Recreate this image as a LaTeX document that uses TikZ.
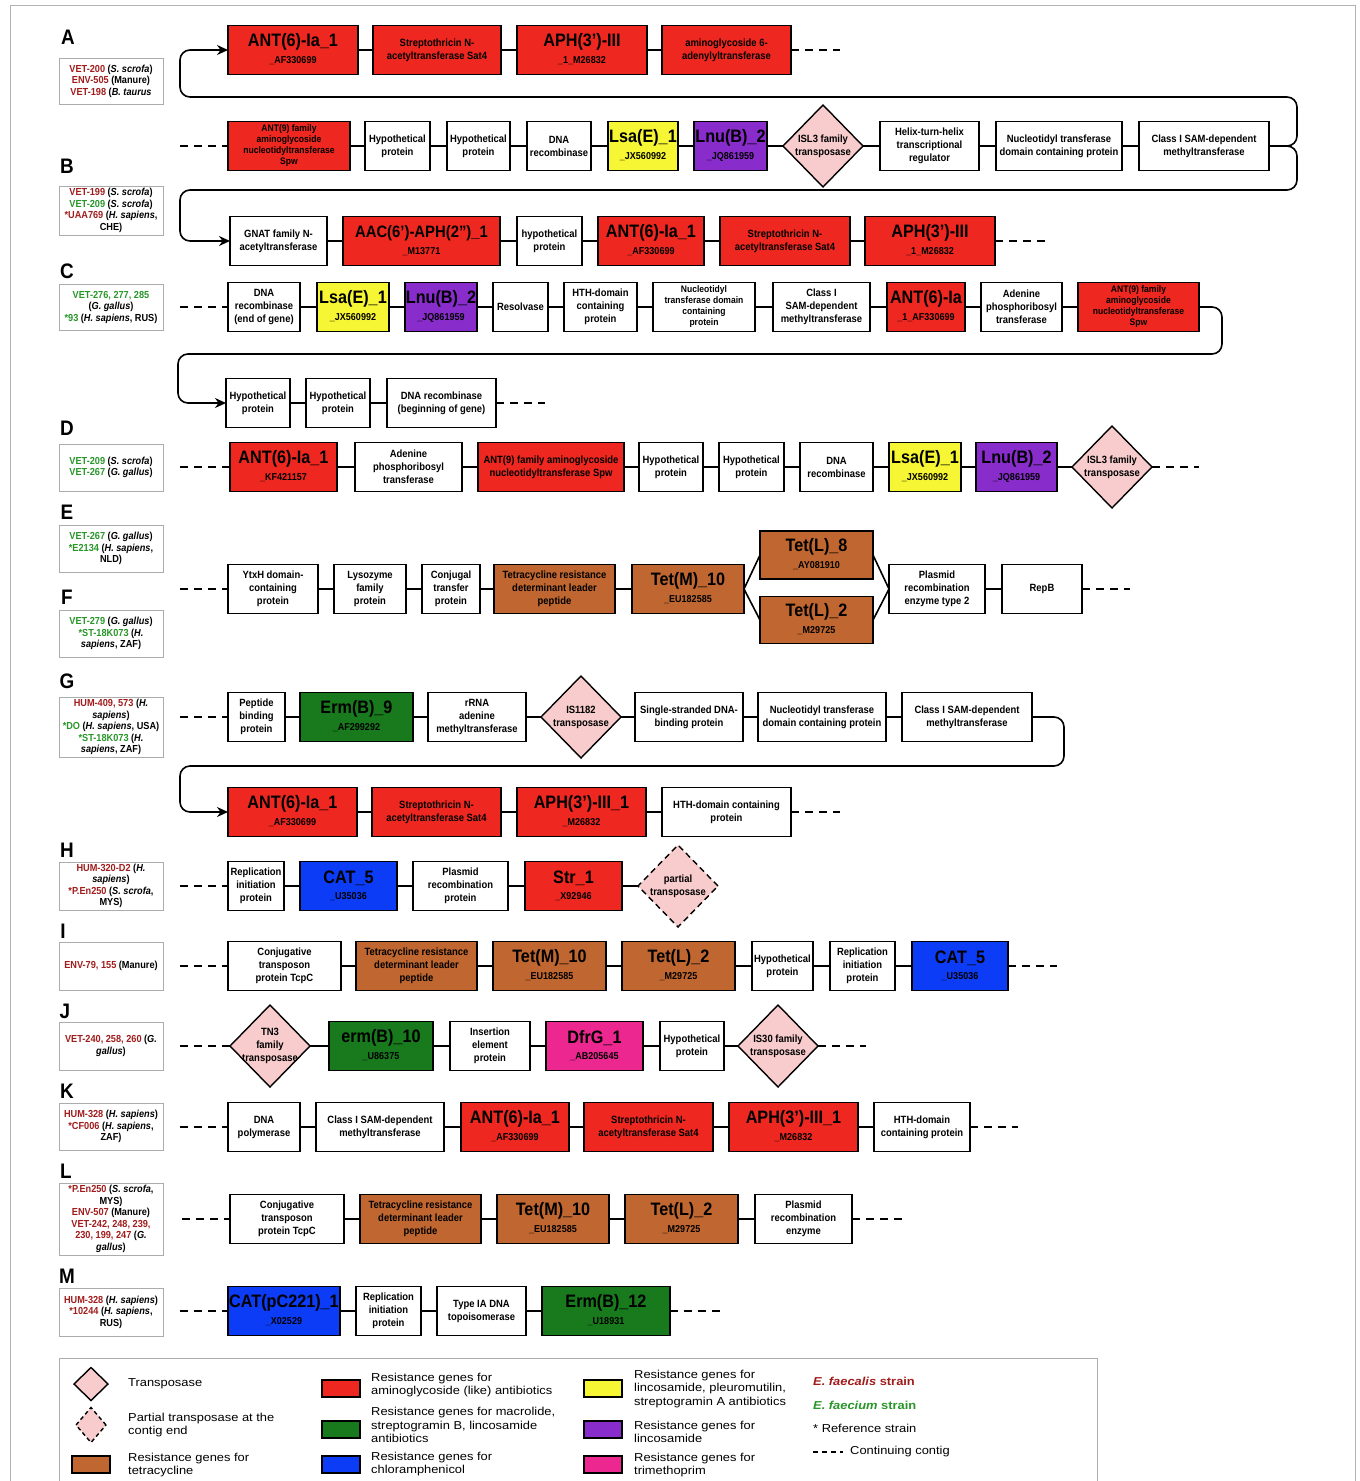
\documentclass[tikz,border=0pt]{standalone}
\usepackage{fontspec}
\usepackage{tikz}
\usetikzlibrary{shapes.geometric, positioning, arrows.meta}

\setmainfont[FakeStretch=0.9]{Liberation Sans}
\newfontfamily\legendfamily[FakeStretch=1.12]{Liberation Sans}

\definecolor{resred}{RGB}{238,40,32}
\definecolor{resyellow}{RGB}{246,246,52}
\definecolor{respurple}{RGB}{136,44,204}
\definecolor{resbrown}{RGB}{192,102,48}
\definecolor{resgreen}{RGB}{24,122,28}
\definecolor{resblue}{RGB}{12,60,246}
\definecolor{respink}{RGB}{236,40,144}
\definecolor{tpink}{RGB}{248,204,204}
\definecolor{strred}{RGB}{160,28,28}
\definecolor{strgreen}{RGB}{40,150,40}

\newcommand{\boxtxt}{\fontsize{10.5}{13}\selectfont\bfseries}
\newcommand{\tighttxt}{\fontsize{9.5}{11}\selectfont\bfseries}
\newcommand{\genetxt}{\fontsize{18}{18}\selectfont\bfseries}
\newcommand{\genesmtxt}{\fontsize{16.5}{16.5}\selectfont\bfseries}
\newcommand{\idtxt}{\fontsize{10}{10}\selectfont\bfseries}
\newcommand{\straintxt}{\fontsize{10.2}{11.5}\selectfont\bfseries}
\newcommand{\paneltxt}{\fontsize{21}{21}\selectfont\bfseries}
\newcommand{\legtxt}{\legendfamily\fontsize{11.5}{13.5}\selectfont}
\newcommand{\faecalis}[1]{\textcolor{strred}{#1}}
\newcommand{\faecium}[1]{\textcolor{strgreen}{#1}}

\begin{document}
\begin{tikzpicture}[x=1pt, y=-1pt,
    gbox/.style={rectangle, draw=black, line width=1.7pt, fill=white, minimum height=49pt, inner sep=1pt, outer sep=0pt, align=center, font=\boxtxt},
    gname/.style 2 args={label={[bigname]center:#1}, label={[idname]center:#2}},
    bigname/.style={font=\genetxt, inner sep=0pt, yshift=8pt},
    idname/.style={font=\idtxt, inner sep=0pt, yshift=-11pt},
    tpase/.style={diamond, draw=black, line width=1.4pt, fill=tpink, minimum width=80pt, minimum height=82pt, inner sep=0pt, outer sep=0pt},
    ptpase/.style={tpase, dash pattern=on 6pt off 4pt},
    tlabel/.style={label={[dtext]center:#1}},
    dtext/.style={align=center, font=\boxtxt, inner sep=0pt},
    strain/.style={rectangle, draw=gray!65, line width=0.9pt, minimum width=104pt, inner sep=1pt, align=center, font=\straintxt},
    panel/.style={font=\paneltxt, inner sep=0pt},
    link/.style={line width=1.6pt},
    cont/.style={line width=1.6pt, dash pattern=on 8pt off 6pt},
    wrap/.style={line width=1.6pt, rounded corners=10pt, -{Stealth[length=11pt, width=10pt]}},
    keybox/.style={rectangle, draw=black, line width=1.6pt, minimum width=38pt, minimum height=17pt, inner sep=0pt},
    legtext/.style={anchor=west, align=left, font=\legtxt, inner sep=0pt}
]
\useasboundingbox (0,0) rectangle (1360,1481);
\draw [gray!60, line width=1pt] (10,5) rectangle (1355,1500);

% panel letters
\node (labA) [panel] at (68,37) {A};
\node (labB) [panel] at (67,166) {B};
\node (labC) [panel] at (67,271) {C};
\node (labD) [panel] at (67,428) {D};
\node (labE) [panel] at (67,512) {E};
\node (labF) [panel] at (67,597) {F};
\node (labG) [panel] at (67,681) {G};
\node (labH) [panel] at (67,850) {H};
\node (labI) [panel] at (63,931) {I};
\node (labJ) [panel] at (65,1011) {J};
\node (labK) [panel] at (67,1091) {K};
\node (labL) [panel] at (66,1171) {L};
\node (labM) [panel] at (67,1276) {M};

% strains
\node (stA) [strain, minimum height=46pt] at (111,81) {\faecalis{VET-200} (\textit{S. scrofa})\\\faecalis{ENV-505} (Manure)\\\faecalis{VET-198} (\textit{B. taurus}};
\node (stB) [strain, minimum height=49pt] at (111,210.5) {\faecalis{VET-199} (\textit{S. scrofa})\\\faecium{VET-209} (\textit{S. scrofa})\\\faecalis{*UAA769} (\textit{H. sapiens},\\CHE)};
\node (stC) [strain, minimum height=46pt] at (111,307) {\faecium{VET-276, 277, 285}\\(\textit{G. gallus})\\\faecium{*93} (\textit{H. sapiens}, RUS)};
\node (stD) [strain, minimum height=47pt] at (111,467.5) {\faecium{VET-209} (\textit{S. scrofa})\\\faecium{VET-267} (\textit{G. gallus})};
\node (stE) [strain, minimum height=47pt] at (111,548.5) {\faecium{VET-267} (\textit{G. gallus})\\\faecium{*E2134} (\textit{H. sapiens},\\NLD)};
\node (stF) [strain, minimum height=47pt] at (111,633.5) {\faecium{VET-279} (\textit{G. gallus})\\\faecium{*ST-18K073} (\textit{H.}\\\textit{sapiens}, ZAF)};
\node (stG) [strain, minimum height=60pt] at (111,727) {\faecalis{HUM-409, 573} (\textit{H.}\\\textit{sapiens})\\\faecium{*DO} (\textit{H. sapiens}, USA)\\\faecium{*ST-18K073} (\textit{H.}\\\textit{sapiens}, ZAF)};
\node (stH) [strain, minimum height=48pt] at (111,886) {\faecalis{HUM-320-D2} (\textit{H.}\\\textit{sapiens})\\\faecalis{*P.En250} (\textit{S. scrofa},\\MYS)};
\node (stI) [strain, minimum height=48pt] at (111,966) {\faecalis{ENV-79, 155} (Manure)};
\node (stJ) [strain, minimum height=48pt] at (111,1046) {\faecalis{VET-240, 258, 260} (\textit{G.}\\\textit{gallus})};
\node (stK) [strain, minimum height=47pt] at (111,1126.5) {\faecalis{HUM-328} (\textit{H. sapiens})\\\faecalis{*CF006} (\textit{H. sapiens},\\ZAF)};
\node (stL) [strain, minimum height=72pt] at (111,1219) {\faecalis{*P.En250} (\textit{S. scrofa},\\MYS)\\\faecalis{ENV-507} (Manure)\\\faecalis{VET-242, 248, 239,}\\\faecalis{230, 199, 247} (\textit{G.}\\\textit{gallus})};
\node (stM) [strain, minimum height=48pt] at (111,1312) {\faecalis{HUM-328} (\textit{H. sapiens})\\\faecalis{*10244} (\textit{H. sapiens},\\RUS)};

% A
\node (a1) [gbox, fill=resred, minimum width=130pt, gname={ANT(6)-Ia\_1}{\_AF330699}] at (293,50) {};
\node (a2) [gbox, fill=resred, minimum width=128pt, right=15pt of a1] {Streptothricin N-\\acetyltransferase Sat4};
\node (a3) [gbox, fill=resred, minimum width=130pt, right=16pt of a2, gname={APH(3')-III}{\_1\_M26832}] {};
\node (a4) [gbox, fill=resred, minimum width=129pt, right=15pt of a3] {aminoglycoside 6-\\adenylyltransferase};
\coordinate (aR) at ([xshift=49pt]a4.east);
\draw [link] (a1) -- (a2) (a2) -- (a3) (a3) -- (a4);
\draw [cont] (a4) -- (aR);

% A / B shared line
\node (ab1) [gbox, fill=resred, minimum width=122pt, font=\tighttxt] at (289,146) {ANT(9) family\\aminoglycoside\\nucleotidyltransferase\\Spw};
\node (ab2) [gbox, minimum width=65pt, right=15pt of ab1] {Hypothetical\\protein};
\node (ab3) [gbox, minimum width=63pt, right=17pt of ab2] {Hypothetical\\protein};
\node (ab4) [gbox, minimum width=64pt, right=17pt of ab3] {DNA\\recombinase};
\node (ab5) [gbox, fill=resyellow, minimum width=70pt, right=17pt of ab4, gname={Lsa(E)\_1}{\_JX560992}] {};
\node (ab6) [gbox, fill=respurple, minimum width=73pt, right=16pt of ab5, gname={Lnu(B)\_2}{\_JQ861959}] {};
\node (ab7) [tpase, right=16pt of ab6, tlabel={ISL3 family\\transposase}] {};
\node (ab8) [gbox, minimum width=99pt, right=17pt of ab7] {Helix-turn-helix\\transcriptional\\regulator};
\node (ab9) [gbox, minimum width=126pt, right=17pt of ab8] {Nucleotidyl transferase\\domain containing protein};
\node (ab10) [gbox, minimum width=130pt, right=17pt of ab9] {Class I SAM-dependent\\methyltransferase};
\coordinate (abL) at ([xshift=-48pt]ab1.west);
\draw [cont] (abL) -- (ab1);
\draw [link] (ab1) -- (ab2) (ab2) -- (ab3) (ab3) -- (ab4) (ab4) -- (ab5) (ab5) -- (ab6)
             (ab6) -- (ab7) (ab7) -- (ab8) (ab8) -- (ab9) (ab9) -- (ab10);
\coordinate (wrapA1) at (1297,97);
\coordinate (wrapA2) at (180,97);
\coordinate (wrapB1) at (1297,190);
\coordinate (wrapB2) at (180,190);
\draw [wrap] (ab10.east) -| (wrapA1) -- (wrapA2) |- (a1.west);

% B
\node (b1) [gbox, minimum width=97pt] at (278.5,241) {GNAT family N-\\acetyltransferase};
\node (b2) [gbox, fill=resred, minimum width=157pt, right=16pt of b1,
    label={[bigname, font=\genesmtxt]center:AAC(6')-APH(2'')\_1}, label={[idname]center:\_M13771}] {};
\node (b3) [gbox, minimum width=65pt, right=17pt of b2] {hypothetical\\protein};
\node (b4) [gbox, fill=resred, minimum width=106pt, right=16pt of b3, gname={ANT(6)-Ia\_1}{\_AF330699}] {};
\node (b5) [gbox, fill=resred, minimum width=130pt, right=16pt of b4] {Streptothricin N-\\acetyltransferase Sat4};
\node (b6) [gbox, fill=resred, minimum width=130pt, right=15pt of b5, gname={APH(3')-III}{\_1\_M26832}] {};
\coordinate (bR) at ([xshift=50pt]b6.east);
\draw [wrap] (ab10.east) -| (wrapB1) -- (wrapB2) |- (b1.west);
\draw [link] (b1) -- (b2) (b2) -- (b3) (b3) -- (b4) (b4) -- (b5) (b5) -- (b6);
\draw [cont] (b6) -- (bR);

% C
\node (c1) [gbox, minimum width=72pt] at (264,307) {DNA\\recombinase\\(end of gene)};
\node (c2) [gbox, fill=resyellow, minimum width=72pt, right=17pt of c1, gname={Lsa(E)\_1}{\_JX560992}] {};
\node (c3) [gbox, fill=respurple, minimum width=72pt, right=16pt of c2, gname={Lnu(B)\_2}{\_JQ861959}] {};
\node (c4) [gbox, minimum width=55pt, right=16pt of c3] {Resolvase};
\node (c5) [gbox, minimum width=73pt, right=16pt of c4] {HTH-domain\\containing\\protein};
\node (c6) [gbox, minimum width=102pt, right=16pt of c5, font=\tighttxt] {Nucleotidyl\\transferase domain\\containing\\protein};
\node (c7) [gbox, minimum width=97pt, right=18pt of c6] {Class I\\SAM-dependent\\methyltransferase};
\node (c8) [gbox, fill=resred, minimum width=78pt, right=17pt of c7, gname={ANT(6)-Ia}{\_1\_AF330699}] {};
\node (c9) [gbox, minimum width=81pt, right=16pt of c8] {Adenine\\phosphoribosyl\\transferase};
\node (c10) [gbox, fill=resred, minimum width=121pt, right=16pt of c9, font=\tighttxt] {ANT(9) family\\aminoglycoside\\nucleotidyltransferase\\Spw};
\coordinate (cL) at ([xshift=-48pt]c1.west);
\draw [cont] (cL) -- (c1);
\draw [link] (c1) -- (c2) (c2) -- (c3) (c3) -- (c4) (c4) -- (c5) (c5) -- (c6)
             (c6) -- (c7) (c7) -- (c8) (c8) -- (c9) (c9) -- (c10);
\node (cc1) [gbox, minimum width=64pt] at (258,403) {Hypothetical\\protein};
\node (cc2) [gbox, minimum width=64pt, right=16pt of cc1] {Hypothetical\\protein};
\node (cc3) [gbox, minimum width=109pt, right=17pt of cc2] {DNA recombinase\\(beginning of gene)};
\coordinate (wrapC1) at (1222,354);
\coordinate (wrapC2) at (178,354);
\draw [wrap] (c10.east) -| (wrapC1) -- (wrapC2) |- (cc1.west);
\coordinate (ccR) at ([xshift=49pt]cc3.east);
\draw [link] (cc1) -- (cc2) (cc2) -- (cc3);
\draw [cont] (cc3) -- (ccR);

% D
\node (d1) [gbox, fill=resred, minimum width=107pt, gname={ANT(6)-Ia\_1}{\_KF421157}] at (283.5,467) {};
\node (d2) [gbox, minimum width=107pt, right=18pt of d1] {Adenine\\phosphoribosyl\\transferase};
\node (d3) [gbox, fill=resred, minimum width=146pt, right=16pt of d2] {ANT(9) family aminoglycoside\\nucleotidyltransferase Spw};
\node (d4) [gbox, minimum width=64pt, right=15pt of d3] {Hypothetical\\protein};
\node (d5) [gbox, minimum width=65pt, right=16pt of d4] {Hypothetical\\protein};
\node (d6) [gbox, minimum width=73pt, right=16pt of d5] {DNA\\recombinase};
\node (d7) [gbox, fill=resyellow, minimum width=72pt, right=16pt of d6, gname={Lsa(E)\_1}{\_JX560992}] {};
\node (d8) [gbox, fill=respurple, minimum width=81pt, right=15pt of d7, gname={Lnu(B)\_2}{\_JQ861959}] {};
\node (d9) [tpase, right=15pt of d8, tlabel={ISL3 family\\transposase}] {};
\coordinate (dL) at ([xshift=-50pt]d1.west);
\coordinate (dR) at ([xshift=47pt]d9.east);
\draw [cont] (dL) -- (d1) (d9) -- (dR);
\draw [link] (d1) -- (d2) (d2) -- (d3) (d3) -- (d4) (d4) -- (d5) (d5) -- (d6)
             (d6) -- (d7) (d7) -- (d8) (d8) -- (d9);

% E / F
\node (ef1) [gbox, minimum width=90pt] at (273,589) {YtxH domain-\\containing\\protein};
\node (ef2) [gbox, minimum width=72pt, right=16pt of ef1] {Lysozyme\\family\\protein};
\node (ef3) [gbox, minimum width=58pt, right=16pt of ef2] {Conjugal\\transfer\\protein};
\node (ef4) [gbox, fill=resbrown, minimum width=121pt, right=14pt of ef3] {Tetracycline resistance\\determinant leader\\peptide};
\node (ef5) [gbox, fill=resbrown, minimum width=112pt, right=17pt of ef4, gname={Tet(M)\_10}{\_EU182585}] {};
\node (ef6) [gbox, fill=resbrown, minimum width=113pt, minimum height=48pt, right=16pt of ef5, yshift=34pt, gname={Tet(L)\_8}{\_AY081910}] {};
\node (ef7) [gbox, fill=resbrown, minimum width=113pt, minimum height=47pt, right=16pt of ef5, yshift=-31pt, gname={Tet(L)\_2}{\_M29725}] {};
\node (ef8) [gbox, minimum width=96pt, right=16pt of ef6, yshift=-34pt] {Plasmid\\recombination\\enzyme type 2};
\node (ef9) [gbox, minimum width=80pt, right=17pt of ef8] {RepB};
\coordinate (efL) at ([xshift=-48pt]ef1.west);
\coordinate (efR) at ([xshift=48pt]ef9.east);
\draw [cont] (efL) -- (ef1) (ef9) -- (efR);
\draw [link] (ef1) -- (ef2) (ef2) -- (ef3) (ef3) -- (ef4) (ef4) -- (ef5)
             (ef5.east) -- (ef6.west) (ef5.east) -- (ef7.west)
             (ef6.east) -- (ef8.west) (ef7.east) -- (ef8.west) (ef8) -- (ef9);

% G
\node (g1) [gbox, minimum width=57pt] at (256.5,717) {Peptide\\binding\\protein};
\node (g2) [gbox, fill=resgreen, minimum width=113pt, right=15pt of g1, gname={Erm(B)\_9}{\_AF299292}] {};
\node (g3) [gbox, minimum width=98pt, right=15pt of g2] {rRNA\\adenine\\methyltransferase};
\node (g4) [tpase, right=15pt of g3, tlabel={IS1182\\transposase}] {};
\node (g5) [gbox, minimum width=108pt, right=14pt of g4] {Single-stranded DNA-\\binding protein};
\node (g6) [gbox, minimum width=128pt, right=15pt of g5] {Nucleotidyl transferase\\domain containing protein};
\node (g7) [gbox, minimum width=130pt, right=16pt of g6] {Class I SAM-dependent\\methyltransferase};
\coordinate (gL) at ([xshift=-48pt]g1.west);
\draw [cont] (gL) -- (g1);
\draw [link] (g1) -- (g2) (g2) -- (g3) (g3) -- (g4) (g4) -- (g5) (g5) -- (g6) (g6) -- (g7);
\node (gg1) [gbox, fill=resred, minimum width=129pt, gname={ANT(6)-Ia\_1}{\_AF330699}] at (292.5,812) {};
\node (gg2) [gbox, fill=resred, minimum width=129pt, right=15pt of gg1] {Streptothricin N-\\acetyltransferase Sat4};
\node (gg3) [gbox, fill=resred, minimum width=129pt, right=16pt of gg2, gname={APH(3')-III\_1}{\_M26832}] {};
\node (gg4) [gbox, minimum width=129pt, right=16pt of gg3] {HTH-domain containing\\protein};
\coordinate (wrapG1) at (1064,766);
\coordinate (wrapG2) at (180,766);
\draw [wrap] (g7.east) -| (wrapG1) -- (wrapG2) |- (gg1.west);
\coordinate (ggR) at ([xshift=49pt]gg4.east);
\draw [link] (gg1) -- (gg2) (gg2) -- (gg3) (gg3) -- (gg4);
\draw [cont] (gg4) -- (ggR);

% H
\node (h1) [gbox, minimum width=56pt] at (256,886) {Replication\\initiation\\protein};
\node (h2) [gbox, fill=resblue, minimum width=97pt, right=16pt of h1, gname={CAT\_5}{\_U35036}] {};
\node (h3) [gbox, minimum width=95pt, right=16pt of h2] {Plasmid\\recombination\\protein};
\node (h4) [gbox, fill=resred, minimum width=97pt, right=17pt of h3, gname={Str\_1}{\_X92946}] {};
\node (h5) [ptpase, right=16pt of h4, tlabel={partial\\transposase}] {};
\coordinate (hL) at ([xshift=-48pt]h1.west);
\draw [cont] (hL) -- (h1);
\draw [link] (h1) -- (h2) (h2) -- (h3) (h3) -- (h4) (h4) -- (h5);

% I
\node (i1) [gbox, minimum width=113pt] at (284.5,966) {Conjugative\\transposon\\protein TcpC};
\node (i2) [gbox, fill=resbrown, minimum width=121pt, right=15pt of i1] {Tetracycline resistance\\determinant leader\\peptide};
\node (i3) [gbox, fill=resbrown, minimum width=113pt, right=16pt of i2, gname={Tet(M)\_10}{\_EU182585}] {};
\node (i4) [gbox, fill=resbrown, minimum width=113pt, right=16pt of i3, gname={Tet(L)\_2}{\_M29725}] {};
\node (i5) [gbox, minimum width=61pt, right=17pt of i4] {Hypothetical\\protein};
\node (i6) [gbox, minimum width=65pt, right=17pt of i5] {Replication\\initiation\\protein};
\node (i7) [gbox, fill=resblue, minimum width=96pt, right=17pt of i6, gname={CAT\_5}{\_U35036}] {};
\coordinate (iL) at ([xshift=-48pt]i1.west);
\coordinate (iR) at ([xshift=49pt]i7.east);
\draw [cont] (iL) -- (i1) (i7) -- (iR);
\draw [link] (i1) -- (i2) (i2) -- (i3) (i3) -- (i4) (i4) -- (i5) (i5) -- (i6) (i6) -- (i7);

% J
\node (j1) [tpase, tlabel={TN3\\family\\transposase}] at (270,1046) {};
\node (j2) [gbox, fill=resgreen, minimum width=104pt, right=19pt of j1, gname={erm(B)\_10}{\_U86375}] {};
\node (j3) [gbox, minimum width=80pt, right=17pt of j2] {Insertion\\element\\protein};
\node (j4) [gbox, fill=respink, minimum width=97pt, right=16pt of j3, gname={DfrG\_1}{\_AB205645}] {};
\node (j5) [gbox, minimum width=64pt, right=17pt of j4] {Hypothetical\\protein};
\node (j6) [tpase, right=14pt of j5, tlabel={IS30 family\\transposase}] {};
\coordinate (jL) at ([xshift=-50pt]j1.west);
\coordinate (jR) at ([xshift=48pt]j6.east);
\draw [cont] (jL) -- (j1) (j6) -- (jR);
\draw [link] (j1) -- (j2) (j2) -- (j3) (j3) -- (j4) (j4) -- (j5) (j5) -- (j6);

% K
\node (k1) [gbox, minimum width=72pt] at (264,1127) {DNA\\polymerase};
\node (k2) [gbox, minimum width=128pt, right=16pt of k1] {Class I SAM-dependent\\methyltransferase};
\node (k3) [gbox, fill=resred, minimum width=108pt, right=17pt of k2, gname={ANT(6)-Ia\_1}{\_AF330699}] {};
\node (k4) [gbox, fill=resred, minimum width=129pt, right=15pt of k3] {Streptothricin N-\\acetyltransferase Sat4};
\node (k5) [gbox, fill=resred, minimum width=129pt, right=16pt of k4, gname={APH(3')-III\_1}{\_M26832}] {};
\node (k6) [gbox, minimum width=96pt, right=16pt of k5] {HTH-domain\\containing protein};
\coordinate (kL) at ([xshift=-48pt]k1.west);
\coordinate (kR) at ([xshift=48pt]k6.east);
\draw [cont] (kL) -- (k1) (k6) -- (kR);
\draw [link] (k1) -- (k2) (k2) -- (k3) (k3) -- (k4) (k4) -- (k5) (k5) -- (k6);

% L
\node (l1) [gbox, minimum width=114pt] at (287,1219) {Conjugative\\transposon\\protein TcpC};
\node (l2) [gbox, fill=resbrown, minimum width=121pt, right=16pt of l1] {Tetracycline resistance\\determinant leader\\peptide};
\node (l3) [gbox, fill=resbrown, minimum width=112pt, right=16pt of l2, gname={Tet(M)\_10}{\_EU182585}] {};
\node (l4) [gbox, fill=resbrown, minimum width=113pt, right=16pt of l3, gname={Tet(L)\_2}{\_M29725}] {};
\node (l5) [gbox, minimum width=97pt, right=17pt of l4] {Plasmid\\recombination\\enzyme};
\coordinate (lL) at ([xshift=-48pt]l1.west);
\coordinate (lR) at ([xshift=50pt]l5.east);
\draw [cont] (lL) -- (l1) (l5) -- (lR);
\draw [link] (l1) -- (l2) (l2) -- (l3) (l3) -- (l4) (l4) -- (l5);

% M
\node (m1) [gbox, fill=resblue, minimum width=112pt, gname={CAT(pC221)\_1}{\_X02529}] at (284,1311) {};
\node (m2) [gbox, minimum width=65pt, right=16pt of m1] {Replication\\initiation\\protein};
\node (m3) [gbox, minimum width=89pt, right=16pt of m2] {Type IA DNA\\topoisomerase};
\node (m4) [gbox, fill=resgreen, minimum width=128pt, right=16pt of m3, gname={Erm(B)\_12}{\_U18931}] {};
\coordinate (mL) at ([xshift=-48pt]m1.west);
\coordinate (mR) at ([xshift=50pt]m4.east);
\draw [cont] (mL) -- (m1) (m4) -- (mR);
\draw [link] (m1) -- (m2) (m2) -- (m3) (m3) -- (m4);

% legend
\draw [gray!65, line width=0.9pt] (59,1358) rectangle (1097,1500);
\node (keyT) [tpase, minimum width=34pt, minimum height=33pt] at (91,1384) {};
\node (keyP) [ptpase, minimum width=30pt, minimum height=35pt, dash pattern=on 4pt off 3pt] at (91,1425) {};
\node (keyTet) [keybox, fill=resbrown] at (91,1464.5) {};
\node (keyAmg) [keybox, fill=resred] at (341,1388.5) {};
\node (keyMac) [keybox, fill=resgreen] at (341,1429.5) {};
\node (keyChl) [keybox, fill=resblue] at (341,1464.5) {};
\node (keyLin) [keybox, fill=resyellow] at (603,1388.5) {};
\node (keyLnu) [keybox, fill=respurple] at (603,1429.5) {};
\node (keyTmp) [keybox, fill=respink] at (603,1464.5) {};
\node (txtT) [legtext] at (128,1384) {Transposase};
\node (txtP) [legtext] at (128,1425) {Partial transposase at the\\contig end};
\node (txtTet) [legtext] at (128,1465) {Resistance genes for\\tetracycline};
\node (txtAmg) [legtext] at (371,1385) {Resistance genes for\\aminoglycoside (like) antibiotics};
\node (txtMac) [legtext] at (371,1425) {Resistance genes for macrolide,\\streptogramin B, lincosamide\\antibiotics};
\node (txtChl) [legtext] at (371,1464) {Resistance genes for\\chloramphenicol};
\node (txtLin) [legtext] at (634,1389) {Resistance genes for\\lincosamide, pleuromutilin,\\streptogramin A antibiotics};
\node (txtLnu) [legtext] at (634,1432) {Resistance genes for\\lincosamide};
\node (txtTmp) [legtext] at (634,1465) {Resistance genes for\\trimethoprim};
\node (txtEfs) [legtext, text=strred] at (813,1381) {\bfseries\textit{E. faecalis} strain};
\node (txtEfm) [legtext, text=strgreen] at (813,1405) {\bfseries\textit{E. faecium} strain};
\node (txtRef) [legtext] at (813,1428) {* Reference strain};
\coordinate (keyC1) at (813,1452);
\coordinate (keyC2) at (843,1452);
\draw [line width=1.3pt, dash pattern=on 5pt off 4pt] (keyC1) -- (keyC2);
\node (txtCont) [legtext] at (850,1452) {Continuing contig};
\end{tikzpicture}
\end{document}
